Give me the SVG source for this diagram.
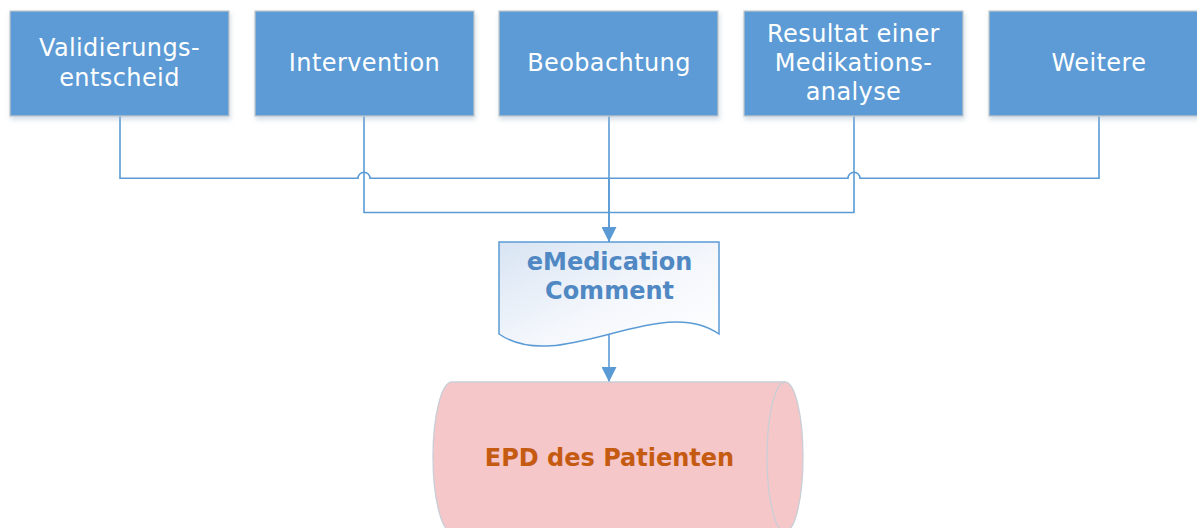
<svg xmlns="http://www.w3.org/2000/svg" width="1197" height="528" viewBox="0 0 1197 528">
  <style>
    .box { fill: #5b9bd5; stroke: #c4c8cc; stroke-width: 1.2; filter: url(#shadow); }
    .boxtext { font-family: "DejaVu Sans", Verdana, sans-serif; font-size: 24px; fill: #ffffff; text-anchor: middle; letter-spacing: 0.4px; }
    .conn { fill: none; stroke: #5b9bd5; stroke-width: 1.6; }
    .doctext { font-family: "DejaVu Sans", Verdana, sans-serif; font-size: 24px; font-weight: bold; fill: #4f88c3; text-anchor: middle; }
    .dbtext { font-family: "DejaVu Sans", Verdana, sans-serif; font-size: 24px; font-weight: bold; fill: #c55a11; text-anchor: middle; }
  </style>
  <defs>
    <filter id="shadow" x="-10%" y="-10%" width="130%" height="140%">
      <feDropShadow dx="1" dy="3" stdDeviation="2.5" flood-color="#9db5cc" flood-opacity="0.45"/>
    </filter>
    <linearGradient id="docgrad" x1="0" y1="0" x2="1" y2="1">
      <stop offset="0" stop-color="#d8e4f3"/>
      <stop offset="0.55" stop-color="#f4f7fc"/>
      <stop offset="1" stop-color="#ffffff"/>
    </linearGradient>
    <marker id="arrow" markerUnits="userSpaceOnUse" markerWidth="15" markerHeight="15" viewBox="0 0 14 14" refX="14" refY="7" orient="auto">
      <path d="M0,0 L14,7 L0,14 Z" fill="#5b9bd5"/>
    </marker>
  </defs>

  <g id="connectors">
    <path class="conn" d="M120,116 V178.3 H358 A6,6 0 0 1 370,178.3 H609 V242"/>
    <path class="conn" d="M1099,116 V178.3 H860 A6,6 0 0 0 848,178.3 H609"/>
    <path class="conn" d="M364,116 V212.5 H609"/>
    <path class="conn" d="M854,116 V212.5 H609"/>
    <path class="conn" d="M609,116 V242" marker-end="url(#arrow)"/>
    <path class="conn" d="M609,335 V382" marker-end="url(#arrow)"/>
  </g>

  <g id="node-validierungsentscheid">
    <rect class="box" x="10" y="11" width="219" height="105"/>
    <text class="boxtext" x="119.5" y="55.5">Validierungs-</text>
    <text class="boxtext" x="119.5" y="85.5">entscheid</text>
  </g>

  <g id="node-intervention">
    <rect class="box" x="255" y="11" width="219" height="105"/>
    <text class="boxtext" x="364.5" y="71">Intervention</text>
  </g>

  <g id="node-beobachtung">
    <rect class="box" x="499" y="11" width="219" height="105"/>
    <text class="boxtext" x="609" y="71">Beobachtung</text>
  </g>

  <g id="node-resultat">
    <rect class="box" x="744" y="11" width="219" height="105"/>
    <text class="boxtext" x="853.5" y="42">Resultat einer</text>
    <text class="boxtext" x="853.5" y="71">Medikations-</text>
    <text class="boxtext" x="853.5" y="100">analyse</text>
  </g>

  <g id="node-weitere">
    <rect class="box" x="989" y="11" width="219" height="105"/>
    <text class="boxtext" x="1099" y="71">Weitere</text>
  </g>

  <g id="node-emedication-comment">
    <path d="M499,242 H719 V334 C660,292 560,376 499,334 Z" fill="url(#docgrad)" stroke="#5b9bd5" stroke-width="1.5"/>
    <text class="doctext" x="609.5" y="270">eMedication</text>
    <text class="doctext" x="609.5" y="299">Comment</text>
  </g>

  <g id="node-epd">
    <path d="M452,382 L785,382 A18,75 0 0 1 785,532 L452,532 A19,75 0 0 1 452,382 Z" fill="#f5c7c8" stroke="#c9ced6" stroke-width="1.3"/>
    <path d="M785,382 A18,75 0 0 0 785,532" fill="none" stroke="#c9ced6" stroke-width="1.3"/>
    <text class="dbtext" x="609.5" y="466">EPD des Patienten</text>
  </g>
</svg>
